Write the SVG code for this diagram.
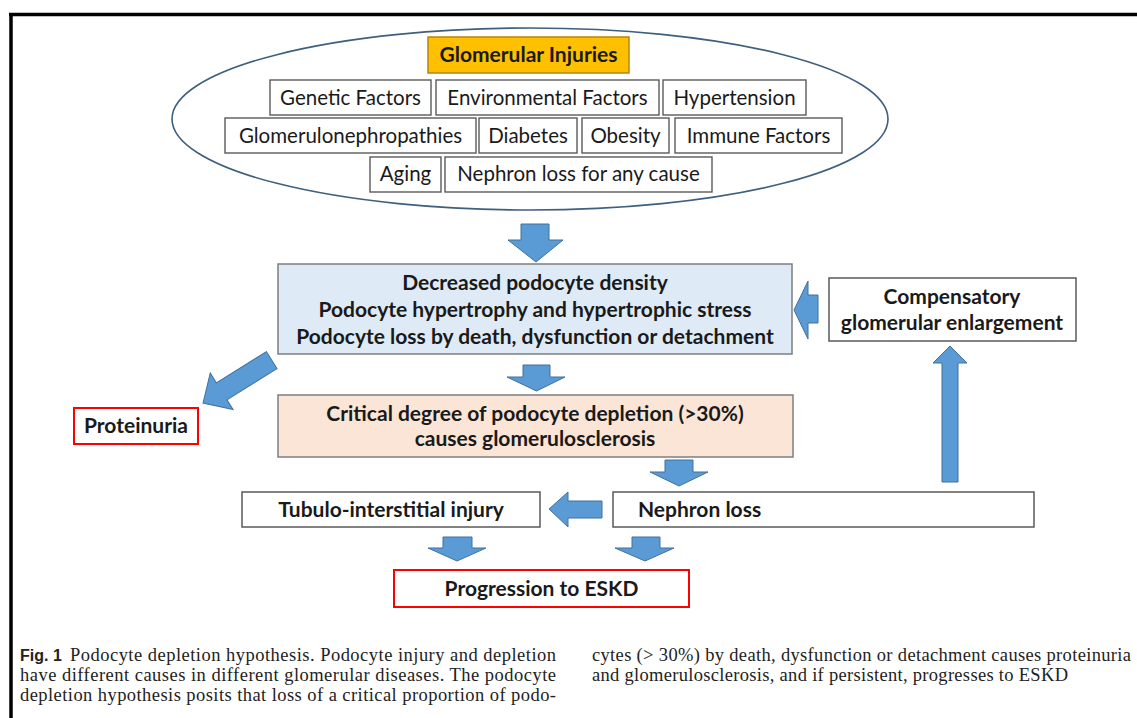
<svg xmlns="http://www.w3.org/2000/svg" width="1137" height="718" viewBox="0 0 1137 718">
<style>
.bg{fill:#fff}
.fbox{fill:#fff;stroke:#5a5a5a;stroke-width:1.4}
.ft{font-family:Lato,"Open Sans",sans-serif;font-size:20.5px;fill:#1a1a1a;text-anchor:middle}
.bt{font-family:Lato,"Open Sans",sans-serif;font-weight:bold;font-size:21px;fill:#1a1a1a;text-anchor:middle}
.arr{fill:#5B9BD5;stroke:#41719C;stroke-width:1}
.cap{font-family:"Liberation Serif","Times New Roman",serif;font-size:18.5px;fill:#222}
.capb{font-family:"Liberation Sans",Arial,sans-serif;font-weight:bold;font-size:16px;fill:#222}
</style>
<rect class="bg" x="0" y="0" width="1137" height="718"/>
<g id="frame">
<line x1="9" y1="14.5" x2="1137" y2="14.5" stroke="#000" stroke-width="3.5"/>
<line x1="11" y1="13" x2="11" y2="718" stroke="#000" stroke-width="3.5"/>
</g>
<g id="injuries">
<ellipse cx="530" cy="119" rx="358" ry="91" fill="none" stroke="#3e5f7e" stroke-width="1.6"/>
<rect x="428" y="37" width="201" height="36" fill="#FFC000" stroke="#B8860B" stroke-width="1.5"/>
<text class="bt" x="528.5" y="62">Glomerular Injuries</text>
</g>
<g id="genetic"><rect class="fbox" x="270" y="80" width="161" height="35"/><text class="ft" x="350.5" y="105">Genetic Factors</text></g>
<g id="environmental"><rect class="fbox" x="436" y="80" width="223" height="35"/><text class="ft" x="547.5" y="105">Environmental Factors</text></g>
<g id="hypertension"><rect class="fbox" x="663" y="80" width="143" height="35"/><text class="ft" x="734.5" y="105">Hypertension</text></g>
<g id="glomerulonephropathies"><rect class="fbox" x="225" y="118" width="251" height="35"/><text class="ft" x="350.5" y="143">Glomerulonephropathies</text></g>
<g id="diabetes"><rect class="fbox" x="479" y="118" width="98" height="35"/><text class="ft" x="528" y="143">Diabetes</text></g>
<g id="obesity"><rect class="fbox" x="582" y="118" width="87" height="35"/><text class="ft" x="625.5" y="143">Obesity</text></g>
<g id="immune"><rect class="fbox" x="675" y="118" width="167" height="35"/><text class="ft" x="758.5" y="143">Immune Factors</text></g>
<g id="aging"><rect class="fbox" x="370" y="157" width="71" height="35"/><text class="ft" x="405.5" y="181">Aging</text></g>
<g id="nephronany"><rect class="fbox" x="445" y="157" width="267" height="35"/><text class="ft" x="578.5" y="181">Nephron loss for any cause</text></g>

<g id="decreased">
<rect x="278" y="264" width="514" height="90" fill="#DEEBF7" stroke="#7f7f7f" stroke-width="1.5"/>
<text class="bt" x="535" y="290">Decreased podocyte density</text>
<text class="bt" x="535" y="317">Podocyte hypertrophy and hypertrophic stress</text>
<text class="bt" x="535" y="344">Podocyte loss by death, dysfunction or detachment</text>
</g>
<g id="critical">
<rect x="278" y="395" width="515" height="62" fill="#FBE5D6" stroke="#7f7f7f" stroke-width="1.5"/>
<text class="bt" x="535" y="421">Critical degree of podocyte depletion (&gt;30%)</text>
<text class="bt" x="535" y="446">causes glomerulosclerosis</text>
</g>
<g id="compensatory">
<rect x="829" y="278" width="247" height="63" fill="#fff" stroke="#5a5a5a" stroke-width="1.5"/>
<text class="bt" x="952" y="304">Compensatory</text>
<text class="bt" x="952" y="330">glomerular enlargement</text>
</g>
<g id="proteinuria">
<rect x="74" y="408" width="124" height="36" fill="#fff" stroke="#FF0000" stroke-width="2"/>
<text class="bt" x="136" y="433">Proteinuria</text>
</g>
<g id="nephronloss">
<rect x="613" y="492" width="421" height="35" fill="#fff" stroke="#5a5a5a" stroke-width="1.5"/>
<text class="bt" x="638" y="517" style="text-anchor:start">Nephron loss</text>
</g>
<g id="tubulo">
<rect x="242" y="492" width="298" height="35" fill="#fff" stroke="#5a5a5a" stroke-width="1.5"/>
<text class="bt" x="391" y="517">Tubulo-interstitial injury</text>
</g>
<g id="eskd">
<rect x="394" y="570" width="295" height="37" fill="#fff" stroke="#FF0000" stroke-width="2"/>
<text class="bt" x="541.5" y="596">Progression to ESKD</text>
</g>

<g id="connectors">
<polygon class="arr" points="521,224 549,224 549,240 563,240 536,262 508,240 521,240"/>
<polygon class="arr" points="523,365 550,365 550,377 565,377 536.5,391 507,377 523,377"/>
<polygon class="arr" points="665,460 693,460 693,472 708,472 679,486 650,472 665,472"/>
<polygon class="arr" points="794,310 808,281 808,295 818,295 818,323 808,323 808,339"/>
<polygon class="arr" points="942,482 958,482 958,363 967,363 950,346 933,363 942,363"/>
<polygon class="arr" points="549,509 568,492 568,501 602,501 602,518 568,518 568,527"/>
<polygon class="arr" points="443,537 472,537 472,548 486,548 457,561 428,548 443,548"/>
<polygon class="arr" points="632,537 660,537 660,548 674,548 645,561 615,548 632,548"/>
<polygon class="arr" transform="translate(203,403) rotate(-32)" points="0,0 22,-21.5 22,-10 81,-10 81,10 22,10 22,21.5"/>
</g>

<g id="caption">
<text class="capb" x="20" y="661">Fig. 1</text>
<text class="cap" x="70" y="661" textLength="486" lengthAdjust="spacing">Podocyte depletion hypothesis. Podocyte injury and depletion</text>
<text class="cap" x="20" y="681" textLength="536" lengthAdjust="spacing">have different causes in different glomerular diseases. The podocyte</text>
<text class="cap" x="20" y="701" textLength="536" lengthAdjust="spacing">depletion hypothesis posits that loss of a critical proportion of podo-</text>
<text class="cap" x="592" y="661" textLength="539" lengthAdjust="spacing">cytes (&gt; 30%) by death, dysfunction or detachment causes proteinuria</text>
<text class="cap" x="592" y="681" textLength="476" lengthAdjust="spacing">and glomerulosclerosis, and if persistent, progresses to ESKD</text>
</g>
</svg>
